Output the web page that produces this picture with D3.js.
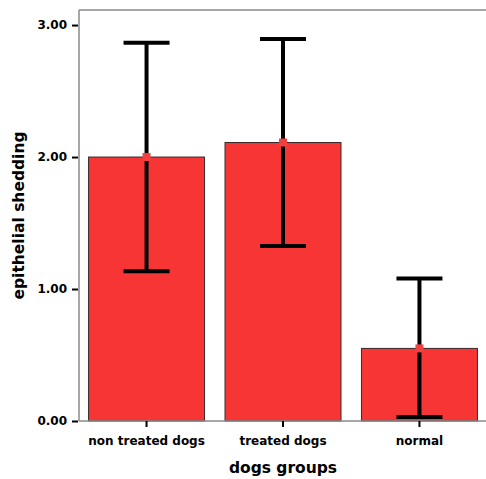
<!DOCTYPE html>
<html>
<head>
<meta charset="utf-8">
<script src="https://cdn.jsdelivr.net/npm/d3@7"></script>
<style>
  body { margin: 0; background: #fff; }
  svg text { font-family: "DejaVu Sans", Verdana, sans-serif; font-weight: bold; }
</style>
</head>
<body>
<div id="chart"></div>
<script>
// values
const groups = ["non treated dogs", "treated dogs", "normal"];
const means = [2.0, 2.11, 0.55];
const upper = [2.865, 2.895, 1.08];
const lower = [1.135, 1.325, 0.03];
const yTicks = [0, 1, 2, 3];

const width = 486, height = 479;
const margin = { top: 10, right: 0, bottom: 58, left: 79 };

const svg = d3.select("#chart").append("svg")
  .attr("width", width)
  .attr("height", height);

const x = d3.scaleBand()
  .domain(groups)
  .range([margin.left, 487])
  .paddingInner(0.15)
  .paddingOuter(0.07);

const y = d3.scaleLinear()
  .domain([0, 3.114])
  .range([height - margin.bottom, margin.top]);

const y0 = y(0);

// frame lines (left, top, bottom)
svg.append("line")
  .attr("x1", margin.left).attr("x2", margin.left)
  .attr("y1", margin.top).attr("y2", y0)
  .attr("stroke", "#8a8a8a").attr("stroke-width", 1.5);
svg.append("line")
  .attr("x1", margin.left).attr("x2", width)
  .attr("y1", margin.top).attr("y2", margin.top)
  .attr("stroke", "#8a8a8a").attr("stroke-width", 1.5);

// bars
svg.selectAll("rect.bar")
  .data(groups)
  .enter()
  .append("rect")
  .attr("class", "bar")
  .attr("x", d => x(d))
  .attr("width", x.bandwidth())
  .attr("y", (d, i) => y(means[i]))
  .attr("height", (d, i) => y0 - y(means[i]))
  .attr("fill", "#f73535")
  .attr("stroke", "#3a2a2a")
  .attr("stroke-width", 1);

svg.append("line")
  .attr("x1", margin.left).attr("x2", width)
  .attr("y1", y0).attr("y2", y0)
  .attr("stroke", "#8a8a8a").attr("stroke-width", 1.5);

// y axis
const yAxis = svg.append("g")
  .attr("transform", `translate(${margin.left - 1},0)`)
  .call(d3.axisLeft(y).tickValues(yTicks).tickFormat(d3.format(".2f")).tickSize(6).tickPadding(5));
yAxis.select(".domain").remove();
yAxis.selectAll(".tick line").attr("stroke", "#000").attr("stroke-width", 2);
yAxis.selectAll(".tick text")
  .attr("fill", "#000")
  .style("font-size", "12px")
  .style("font-family", "\"DejaVu Sans\", sans-serif");

// x axis
const xAxis = svg.append("g")
  .attr("transform", `translate(0,${y0})`)
  .call(d3.axisBottom(x).tickSize(6).tickPadding(9));
xAxis.select(".domain").remove();
xAxis.selectAll(".tick line").attr("stroke", "#000").attr("stroke-width", 2);
xAxis.selectAll(".tick text")
  .attr("fill", "#000")
  .style("font-size", "12px")
  .style("font-family", "\"DejaVu Sans\", sans-serif");

// error bars
const capW = 46;
const eb = svg.selectAll("g.err")
  .data(groups)
  .enter()
  .append("g")
  .attr("class", "err");
const cx = d => x(d) + x.bandwidth() / 2;
eb.append("line")
  .attr("x1", cx).attr("x2", cx)
  .attr("y1", (d, i) => y(upper[i]))
  .attr("y2", (d, i) => y(lower[i]))
  .attr("stroke", "#000").attr("stroke-width", 4);
eb.append("line")
  .attr("x1", d => cx(d) - capW / 2).attr("x2", d => cx(d) + capW / 2)
  .attr("y1", (d, i) => y(upper[i])).attr("y2", (d, i) => y(upper[i]))
  .attr("stroke", "#000").attr("stroke-width", 4);
eb.append("line")
  .attr("x1", d => cx(d) - capW / 2).attr("x2", d => cx(d) + capW / 2)
  .attr("y1", (d, i) => y(lower[i])).attr("y2", (d, i) => y(lower[i]))
  .attr("stroke", "#000").attr("stroke-width", 4);
// mean marker
eb.append("rect")
  .attr("x", d => cx(d) - 4)
  .attr("y", (d, i) => y(means[i]) - 4)
  .attr("width", 8).attr("height", 8)
  .attr("fill", "#f24040");

// axis titles
svg.append("text")
  .attr("x", (margin.left + 487) / 2)
  .attr("y", 473)
  .attr("text-anchor", "middle")
  .style("font-size", "15.5px")
  .text("dogs groups");

svg.append("text")
  .attr("transform", `translate(24,${(margin.top + y0) / 2}) rotate(-90)`)
  .attr("text-anchor", "middle")
  .style("font-size", "15.5px")
  .text("epithelial shedding");
</script>
</body>
</html>
